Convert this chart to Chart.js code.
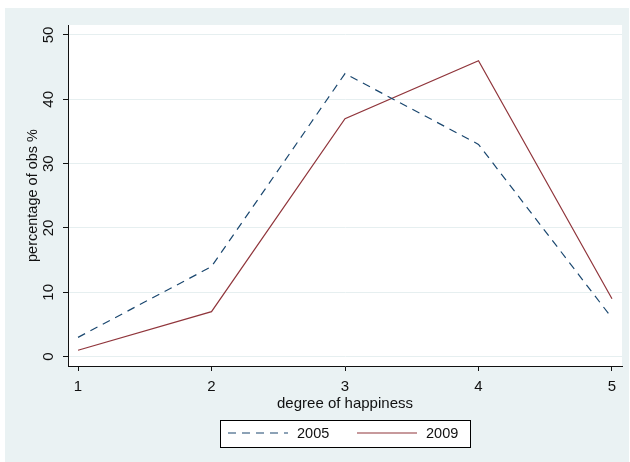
<!DOCTYPE html>
<html>
<head>
<meta charset="utf-8">
<script src="https://cdn.jsdelivr.net/npm/chart.js@4.4.1/dist/chart.umd.min.js"></script>
<style>
  html, body { margin: 0; padding: 0; background: #ffffff; }
  #wrap { width: 630px; height: 462px; }
</style>
</head>
<body>
<div id="wrap"><canvas id="chart" width="630" height="462"></canvas></div>
<script>
// Share of observations (%) by reported degree of happiness, per survey year
const happinessLevels = [1, 2, 3, 4, 5];
const share2005 = [3, 14, 44, 33, 6];
const share2009 = [1, 7, 37, 46, 9];
const seriesNames = ['2005', '2009'];
const xTickValues = [1, 2, 3, 4, 5];
const yTickValues = [0, 10, 20, 30, 40, 50];

const FONT = "'Liberation Sans', Arial, sans-serif";
const INK = '#111111';
const PANEL = '#eaf2f3';

const toPoints = (vals) => happinessLevels.map((x, i) => ({ x: x, y: vals[i] }));

// Paints the outer panel and the white plot region
const panelPlugin = {
  id: 'panel',
  beforeDraw(chart) {
    const { ctx, chartArea: a } = chart;
    ctx.save();
    ctx.fillStyle = '#ffffff';
    ctx.fillRect(0, 0, chart.width, chart.height);
    ctx.fillStyle = PANEL;
    ctx.fillRect(5, 8, chart.width - 6, chart.height - 8);
    ctx.fillStyle = '#ffffff';
    ctx.fillRect(a.left, a.top, a.right - a.left, a.bottom - a.top);
    ctx.restore();
  }
};

// Boxed legend under the x-axis title, built from the dataset styles
const boxedLegend = {
  id: 'boxedLegend',
  afterDraw(chart) {
    const { ctx } = chart;
    const a = chart.chartArea;
    const cx = (a.left + a.right) / 2;
    const boxW = 250, boxH = 27, cy = 433;
    const left = Math.round(cx - boxW / 2) + 0.5;
    const top = Math.round(cy - boxH / 2) + 0.5;
    ctx.save();
    ctx.fillStyle = '#ffffff';
    ctx.fillRect(left, top, boxW, boxH);
    ctx.strokeStyle = '#000000';
    ctx.lineWidth = 1;
    ctx.strokeRect(left, top, boxW, boxH);
    ctx.font = '14.5px ' + FONT;
    ctx.textBaseline = 'middle';
    ctx.textAlign = 'left';
    const starts = [left + 7.5, left + 136.5];
    chart.data.datasets.forEach((ds, i) => {
      const x0 = starts[i];
      ctx.beginPath();
      ctx.setLineDash(ds.borderDash || []);
      ctx.strokeStyle = ds.borderColor;
      ctx.lineWidth = ds.borderWidth;
      ctx.moveTo(x0, cy);
      ctx.lineTo(x0 + 60, cy);
      ctx.stroke();
      ctx.setLineDash([]);
      ctx.fillStyle = INK;
      ctx.fillText(ds.label, x0 + 69, cy + 0.5);
    });
    ctx.restore();
  }
};

new Chart(document.getElementById('chart'), {
  type: 'line',
  data: {
    datasets: [
      {
        label: seriesNames[0],
        data: toPoints(share2005),
        borderColor: '#1a476f',
        borderWidth: 1.2,
        borderDash: [8, 6],
        pointRadius: 0,
        tension: 0,
        fill: false
      },
      {
        label: seriesNames[1],
        data: toPoints(share2009),
        borderColor: '#90353b',
        borderWidth: 1.2,
        pointRadius: 0,
        tension: 0,
        fill: false
      }
    ]
  },
  options: {
    responsive: false,
    animation: false,
    events: [],
    layout: { padding: { left: 5, right: 8, top: 25, bottom: 48 } },
    plugins: {
      legend: { display: false },
      tooltip: { enabled: false }
    },
    scales: {
      x: {
        type: 'linear',
        min: 0.925,
        max: 5.075,
        afterBuildTicks: (s) => { s.ticks = xTickValues.map(v => ({ value: v })); },
        afterFit: (s) => { s.height = 48; },
        border: { display: true, color: INK, width: 1 },
        grid: { display: true, drawOnChartArea: false, drawTicks: true, tickLength: 5, tickColor: INK },
        ticks: {
          color: INK,
          font: { family: FONT, size: 15 },
          padding: 7,
          maxRotation: 0,
          minRotation: 0,
          autoSkip: false
        },
        title: {
          display: true,
          text: 'degree of happiness',
          color: INK,
          font: { family: FONT, size: 15 },
          padding: { top: 0, bottom: 1 }
        }
      },
      y: {
        type: 'linear',
        min: -1.45,
        max: 51.55,
        afterBuildTicks: (s) => { s.ticks = yTickValues.map(v => ({ value: v })); },
        afterFit: (s) => { s.width = 63; },
        border: { display: true, color: INK, width: 1 },
        grid: { display: true, color: '#e6eff0', lineWidth: 1, drawTicks: true, tickLength: 5, tickColor: INK },
        ticks: {
          color: INK,
          font: { family: FONT, size: 15 },
          minRotation: 90,
          maxRotation: 90,
          crossAlign: 'center',
          padding: 6,
          autoSkip: false
        },
        title: {
          display: true,
          text: 'percentage of obs %',
          color: INK,
          font: { family: FONT, size: 14.5 },
          padding: { top: 19, bottom: 0 }
        }
      }
    }
  },
  plugins: [panelPlugin, boxedLegend]
});
</script>
</body>
</html>
